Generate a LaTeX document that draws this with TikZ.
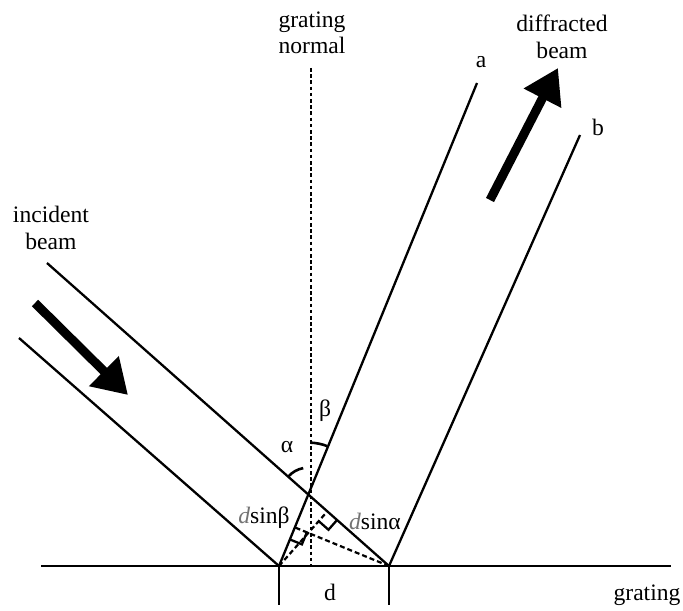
\documentclass[tikz,border=0pt]{standalone}
\usepackage{fontspec}
\setmainfont{Liberation Serif}
\usetikzlibrary{arrows.meta, calc}

\begin{document}
\begin{tikzpicture}[
    x=0.5pt, y=-0.5pt,
    every node/.style={font=\fontsize{11.8}{13.2}\selectfont, align=center, inner sep=1pt},
    ray/.style={black, line width=1.15pt},
    grating-line/.style={black, line width=1.4pt},
    normal-line/.style={black, line width=1.1pt, dash pattern=on 1.8pt off 1.3pt},
    path-diff/.style={black, line width=1.1pt, dash pattern=on 2.5pt off 1.5pt},
    angle-arc/.style={black, line width=1.3pt},
    beam-arrow/.style={-{Triangle[length=17pt, width=20pt]}, black, line width=4.5pt}
]
    \useasboundingbox (0,0) rectangle (683,610);

    % points of the set-up
    \coordinate (gratL) at (41,566);
    \coordinate (gratR) at (671,566);
    \coordinate (slitL) at (279,566);
    \coordinate (slitR) at (389,566);
    \coordinate (tickL) at (279,605);
    \coordinate (tickR) at (389,605);
    \coordinate (normTop) at (311,68);
    \coordinate (normBot) at (311,566);
    \coordinate (incTop) at (47,263);
    \coordinate (incBot) at (19,338);
    \coordinate (rayA) at (477,83);
    \coordinate (rayB) at (580,135);

    % grating and slits
    \draw[grating-line] (gratL) -- (gratR);
    \draw[ray] (slitL) -- (tickL);
    \draw[ray] (slitR) -- (tickR);
    \draw[normal-line] (normTop) -- (normBot);

    % incident and diffracted rays
    \draw[ray] (incTop) -- (slitR);
    \draw[ray] (incBot) -- (slitL);
    \draw[ray] (slitL) -- (rayA);
    \draw[ray] (slitR) -- (rayB);

    % path differences
    \coordinate (footA) at ($(incTop)!(slitL)!(slitR)$);
    \coordinate (footB) at ($(slitL)!(slitR)!(rayA)$);
    \draw[path-diff] (slitL) -- (footA);
    \draw[path-diff] (slitR) -- (footB);

    \coordinate (mA1) at ($(footA)!6.5pt!(slitR)$);
    \coordinate (mA2) at ($(footA)!6.5pt!(slitL)$);
    \draw[ray] (mA1) -- ($(mA1)+(mA2)-(footA)$) -- (mA2);
    \coordinate (mB1) at ($(footB)!6.5pt!(slitL)$);
    \coordinate (mB2) at ($(footB)!6.5pt!(slitR)$);
    \draw[ray] (mB1) -- ($(mB1)+(mB2)-(footB)$) -- (mB2);

    % angles
    \coordinate (cross) at (intersection of incTop--slitR and slitL--rayA);
    \draw[angle-arc] (cross) ++(-138:27) arc[start angle=-138, end angle=-101, radius=27];
    \draw[angle-arc] (cross) ++(-88:52) arc[start angle=-88, end angle=-69, radius=52];

    % beam directions
    \coordinate (inArrS) at (35,303);
    \coordinate (inArrE) at (128,395);
    \coordinate (outArrS) at (490,200);
    \coordinate (outArrE) at (558,68);
    \draw[beam-arrow] (inArrS) -- (inArrE);
    \draw[beam-arrow] (outArrS) -- (outArrE);

    % labels
    \node (lblNormal) at (312,33) {grating\\normal};
    \node (lblIncident) at (51,228) {incident\\beam};
    \node (lblDiffracted) at (562,37) {diffracted\\beam};
    \node (lblA) at (481,62) {a};
    \node (lblB) at (598,127) {b};
    \node (lblAlpha) at (287,447) {α};
    \node (lblBeta) at (325,411) {β};
    \node (lblSinB) at (264,518) {{\color{black!55}\itshape d}sinβ};
    \node (lblSinA) at (375,521) {{\color{black!55}\itshape d}sinα};
    \node (lblD) at (330,592) {d};
    \node (lblGrating) at (647,595) {grating};
\end{tikzpicture}
\end{document}
